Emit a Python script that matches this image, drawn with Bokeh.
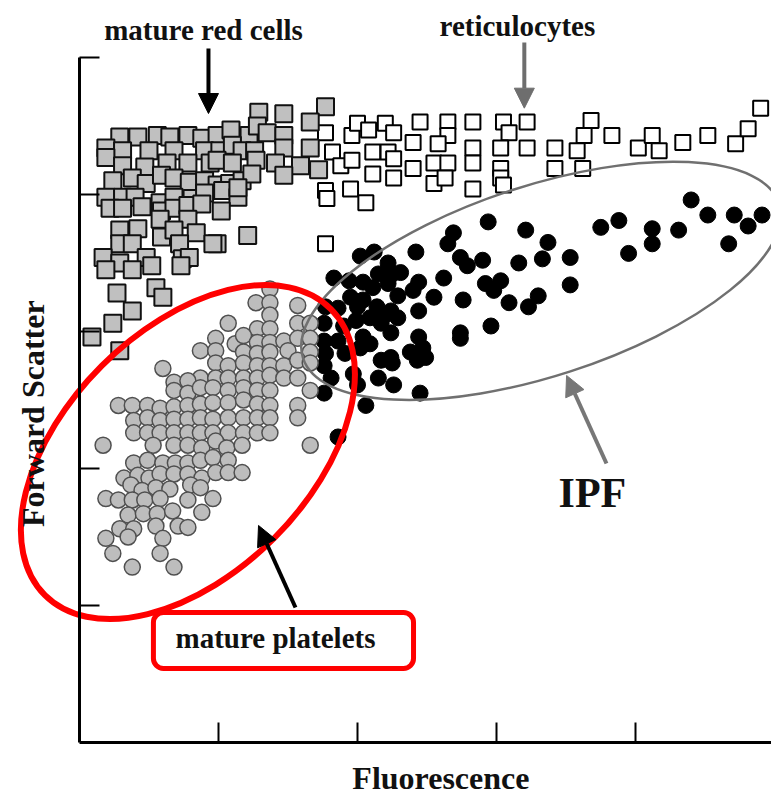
import math
from bokeh.plotting import figure
from bokeh.models import (ColumnDataSource, Range1d, FixedTicker, Label, Arrow,
                          NormalHead, BoxAnnotation)
from bokeh.embed import file_html
from bokeh.resources import INLINE

# ---------------- data (fluorescence, forward scatter), arbitrary log decades ----------------
mature_red_cells = [
    (0.29, 4.42), (0.42, 4.42), (0.56, 4.43), (0.65, 4.42), (0.78, 4.43), (0.88, 4.41),
    (0.99, 4.43), (1.09, 4.47), (1.22, 4.43), (1.29, 4.60), (1.47, 4.59), (1.77, 4.64),
    (1.66, 4.53), (1.28, 4.50), (1.35, 4.45), (1.47, 4.43), (0.19, 4.34),
    (0.31, 4.32), (0.50, 4.32), (0.68, 4.32), (0.90, 4.32), (1.01, 4.32), (1.10, 4.36),
    (1.17, 4.32), (1.26, 4.32), (1.47, 4.34), (1.66, 4.34),
    (0.19, 4.27), (0.31, 4.21), (0.47, 4.20), (0.63, 4.23), (0.78, 4.23), (0.94, 4.23),
    (0.99, 4.25), (1.10, 4.23), (1.27, 4.25), (1.41, 4.23), (1.59, 4.21), (1.72, 4.18),
    (0.24, 4.10), (0.38, 4.12), (0.48, 4.08), (0.59, 4.14), (0.68, 4.12), (0.79, 4.09),
    (0.90, 4.10), (0.99, 4.07), (1.08, 4.08), (1.17, 4.10), (1.24, 4.15), (1.47, 4.14),
    (0.19, 3.98), (0.31, 3.98), (0.40, 3.98), (0.58, 3.94), (0.68, 3.98), (0.81, 3.97),
    (0.90, 4.01), (1.03, 4.03), (1.14, 3.98), (1.14, 4.05),
    (0.22, 3.90), (0.31, 3.90), (0.45, 3.91), (0.59, 3.88), (0.68, 3.90), (0.78, 3.92),
    (0.88, 3.93), (1.02, 3.88), (0.58, 3.82), (0.78, 3.82),
    (0.29, 3.74), (0.42, 3.75), (0.59, 3.69), (0.68, 3.74), (0.84, 3.72), (0.99, 3.64),
    (1.21, 3.70), (0.29, 3.64), (0.38, 3.64), (0.72, 3.64), (0.96, 3.64),
    (0.17, 3.54), (0.29, 3.50), (0.48, 3.54), (0.74, 3.53), (0.79, 3.54),
    (0.19, 3.45), (0.38, 3.45), (0.52, 3.48), (0.73, 3.48),
    (0.55, 3.32), (0.60, 3.25), (0.27, 3.28), (0.38, 3.15), (0.24, 3.06), (0.09, 2.96),
    (0.29, 2.86),
]

reticulocytes = [
    (1.77, 4.45), (1.82, 4.31), (1.96, 4.43), (2.00, 4.52), (2.08, 4.47), (2.20, 4.52),
    (2.26, 4.45), (2.40, 4.38), (2.45, 4.53), (2.65, 4.53), (2.65, 4.43), (2.58, 4.37),
    (2.83, 4.53), (3.05, 4.53), (3.09, 4.45), (2.83, 4.34), (3.03, 4.34), (1.88, 4.21),
    (1.96, 4.25), (2.11, 4.31), (2.22, 4.31), (2.26, 4.26), (2.40, 4.19), (2.11, 4.15),
    (2.26, 4.12), (2.55, 4.23), (2.65, 4.23), (2.55, 4.08), (2.63, 4.12), (2.83, 4.23),
    (3.03, 4.19), (3.03, 4.12), (3.05, 4.07), (2.83, 4.04), (1.77, 4.03), (1.78, 3.97),
    (1.95, 4.04), (2.06, 3.94), (1.77, 3.64),
    (3.22, 4.53), (3.22, 4.34), (3.42, 4.34), (3.42, 4.19), (3.58, 4.32), (3.62, 4.19),
    (3.68, 4.54), (3.63, 4.43), (3.83, 4.43), (4.02, 4.34), (4.12, 4.43), (4.17, 4.32),
    (4.34, 4.38), (4.52, 4.43), (4.72, 4.37), (4.81, 4.48), (4.90, 4.63),
]

mature_platelets = [
    (1.37, 3.31), (1.27, 3.21), (1.37, 3.21), (1.57, 3.19), (1.37, 3.12), (1.07, 3.06),
    (1.28, 3.02), (1.37, 3.02), (1.57, 3.06), (1.66, 3.06),
    (0.98, 2.95), (1.12, 2.91), (1.18, 2.97), (1.28, 2.92), (1.37, 2.92), (1.47, 2.93),
    (1.57, 2.95), (1.66, 2.95),
    (0.87, 2.86), (0.98, 2.86), (1.18, 2.85), (1.28, 2.84), (1.37, 2.85), (1.50, 2.86),
    (1.66, 2.85),
    (0.98, 2.77), (1.07, 2.75), (1.18, 2.77), (1.28, 2.75), (1.37, 2.75), (1.47, 2.75),
    (1.57, 2.79), (1.66, 2.77), (0.60, 2.73),
    (0.87, 2.66), (0.98, 2.66), (1.07, 2.66), (1.18, 2.66), (1.28, 2.66), (1.37, 2.68),
    (1.47, 2.66), (1.57, 2.66),
    (0.68, 2.63), (0.78, 2.64), (0.68, 2.57), (0.78, 2.55), (0.87, 2.59), (0.96, 2.59),
    (1.07, 2.57), (1.18, 2.59), (1.28, 2.57), (1.37, 2.57), (1.66, 2.57),
    (0.28, 2.46), (0.38, 2.46), (0.49, 2.46), (0.58, 2.44), (0.68, 2.45), (0.78, 2.46),
    (0.87, 2.47), (0.96, 2.48), (1.07, 2.48), (1.18, 2.50), (1.28, 2.47), (1.37, 2.46),
    (1.57, 2.46), (1.57, 2.37),
    (0.39, 2.35), (0.49, 2.37), (0.58, 2.35), (0.68, 2.36), (0.78, 2.36), (0.87, 2.37),
    (0.96, 2.36), (1.07, 2.37), (1.18, 2.37), (1.28, 2.37), (1.37, 2.37),
    (0.39, 2.26), (0.49, 2.26), (0.58, 2.26), (0.68, 2.26), (0.78, 2.26), (0.87, 2.26),
    (0.96, 2.26), (1.07, 2.26), (1.18, 2.26), (1.28, 2.26), (1.37, 2.26),
    (0.17, 2.17), (0.53, 2.17), (0.68, 2.17), (0.78, 2.17), (0.88, 2.15), (0.98, 2.20),
    (1.06, 2.15), (1.17, 2.17), (1.66, 2.17),
    (0.39, 2.04), (0.49, 2.06), (0.60, 2.04), (0.69, 2.04), (0.78, 2.04), (0.87, 2.06),
    (0.96, 2.08), (1.07, 2.06),
    (0.32, 1.93), (0.42, 1.95), (0.50, 1.93), (0.58, 1.96), (0.68, 1.96), (0.78, 1.96),
    (0.88, 1.93), (0.98, 1.97), (1.07, 1.97), (1.17, 1.97),
    (0.37, 1.88), (0.45, 1.84), (0.55, 1.86), (0.65, 1.85), (0.80, 1.88), (0.87, 1.86),
    (0.19, 1.78), (0.28, 1.77), (0.38, 1.77), (0.47, 1.77), (0.58, 1.78), (0.78, 1.77),
    (0.96, 1.78),
    (0.35, 1.66), (0.46, 1.67), (0.56, 1.67), (0.67, 1.69), (0.88, 1.68),
    (0.29, 1.56), (0.39, 1.56), (0.55, 1.58), (0.71, 1.58), (0.78, 1.57),
    (0.19, 1.49), (0.35, 1.50), (0.60, 1.49), (0.24, 1.38), (0.58, 1.38),
    (0.38, 1.28), (0.68, 1.28),
]

immature_platelets = [
    (2.94, 3.80), (2.69, 3.72), (2.65, 3.64), (3.21, 3.74), (3.37, 3.65), (2.42, 3.58),
    (2.02, 3.55), (2.12, 3.58), (2.74, 3.54), (2.90, 3.52), (2.79, 3.48), (3.16, 3.50),
    (3.33, 3.53),
    (1.83, 3.39), (1.94, 3.37), (2.04, 3.36), (2.11, 3.32), (2.15, 3.42), (2.22, 3.50),
    (2.24, 3.41), (2.31, 3.43), (2.22, 3.35), (2.44, 3.36), (2.40, 3.30), (2.62, 3.39),
    (2.92, 3.35), (3.03, 3.37), (2.98, 3.30), (3.30, 3.26),
    (2.29, 3.26), (2.55, 3.25), (2.76, 3.23), (3.09, 3.21), (3.23, 3.18), (1.95, 3.25),
    (2.04, 3.23), (2.14, 3.18), (2.24, 3.15), (2.29, 3.10), (2.44, 3.15),
    (1.77, 3.18), (1.86, 3.17), (2.00, 3.18), (2.09, 3.10), (2.20, 3.12), (1.76, 3.06),
    (1.90, 3.04), (1.99, 3.08), (2.17, 3.06), (2.24, 2.99), (2.44, 2.96), (2.74, 2.99),
    (2.96, 3.04),
    (1.76, 2.93), (1.86, 2.93), (2.04, 2.96), (2.09, 2.91), (2.02, 2.88), (2.38, 2.85),
    (2.47, 2.88), (2.49, 2.81), (2.43, 2.79), (2.74, 2.95),
    (1.77, 2.84), (1.76, 2.75), (1.91, 2.84), (2.17, 2.79), (2.25, 2.77), (2.24, 2.81),
    (1.81, 2.66), (1.97, 2.69), (2.15, 2.66), (2.26, 2.61), (1.76, 2.55), (2.00, 2.61),
    (2.45, 2.55), (2.06, 2.46), (1.86, 2.23),
    (4.40, 3.96), (3.88, 3.81), (3.75, 3.76), (4.12, 3.75), (4.12, 3.64), (4.31, 3.74),
    (4.52, 3.85), (4.71, 3.85), (4.81, 3.77), (4.91, 3.85), (4.67, 3.64), (3.95, 3.57),
    (3.53, 3.54), (3.53, 3.34),
]

x_ticks = [1, 2, 3, 4]
y_ticks = [1, 2, 3, 4, 5]

SERIF = "Liberation Serif"
X_MIN, X_MAX = -0.568, 4.978
Y_MIN, Y_MAX = -0.409, 5.416


def src(points):
    return ColumnDataSource(dict(x=[pt[0] for pt in points], y=[pt[1] for pt in points]))


p = figure(width=771, height=798, output_backend="svg", toolbar_location=None,
           x_range=Range1d(X_MIN, X_MAX), y_range=Range1d(Y_MIN, Y_MAX),
           min_border_left=0, min_border_right=0, min_border_top=0,
           min_border_bottom=0)
p.outline_line_color = None
p.grid.visible = False
p.background_fill_color = "white"

# axes drawn at the data origin, ticks pointing inward, no tick labels
for ax, ticks in ((p.xaxis[0], x_ticks), (p.yaxis[0], y_ticks)):
    ax.fixed_location = 0
    ax.ticker = FixedTicker(ticks=ticks)
    ax.major_label_overrides = {t: "" for t in ticks}
    ax.major_label_text_font_size = "1px"
    ax.major_label_standoff = 0
    ax.axis_line_width = 3
    ax.axis_line_color = "black"
    ax.major_tick_in = 20
    ax.major_tick_out = 0
    ax.major_tick_line_width = 2
    ax.major_tick_line_color = "black"
    ax.minor_tick_line_color = None
p.xaxis[0].bounds = (0, X_MAX)
p.yaxis[0].bounds = (0, 5)

# scatter populations
p.scatter("x", "y", source=src(reticulocytes), marker="square", size=15,
          fill_color="white", line_color="black", line_width=2)
p.scatter("x", "y", source=src(mature_red_cells), marker="square", size=17,
          fill_color="#c0c0c0", line_color="#111111", line_width=2)
p.scatter("x", "y", source=src(immature_platelets), marker="circle", size=16,
          fill_color="black", line_color="black", line_width=1)
p.scatter("x", "y", source=src(mature_platelets), marker="circle", size=16,
          fill_color="#bdbdbd", line_color="#505050", line_width=1.5)

# gating ellipses
p.ellipse(x=[3.32], y=[3.37], width=[3.60], height=[1.39], angle=[math.radians(18)],
          fill_color=None, line_color="#707070", line_width=2.5)
p.ellipse(x=[0.78], y=[2.12], width=[2.91], height=[1.78], angle=[math.radians(45)],
          fill_color=None, line_color="#ff0000", line_width=6)

# red rounded box around "mature platelets"
p.add_layout(BoxAnnotation(left=0.532, right=2.403, bottom=0.540, top=0.949,
                           fill_color=None, fill_alpha=0, line_color="#ff0000",
                           line_alpha=1.0, line_width=5, border_radius=10))

# arrows
def add_arrow(x0, y0, x1, y1, color):
    p.add_layout(Arrow(x_start=x0, y_start=y0, x_end=x1, y_end=y1,
                       line_color=color, line_width=4,
                       end=NormalHead(size=20, fill_color=color, line_color=color)))

add_arrow(0.928, 5.066, 0.928, 4.591, "black")
add_arrow(3.20, 5.11, 3.20, 4.63, "#6e6e6e")
add_arrow(1.554, 0.985, 1.288, 1.584, "black")
add_arrow(3.791, 2.036, 3.504, 2.679, "#777777")

# texts
def add_text(x, y, text, size, angle=0.0):
    p.add_layout(Label(x=x, y=y, text=text, text_font=SERIF, text_font_style="bold",
                       text_font_size=size, text_color="#111111", text_align="center",
                       text_baseline="middle", angle=angle))

add_text(0.892, 5.20, "mature red cells", "29px")
add_text(3.15, 5.23, "reticulocytes", "29px")
add_text(3.69, 1.82, "IPF", "42px")
add_text(1.41, 0.766, "mature platelets", "29px")
add_text(2.60, -0.26, "Fluorescence", "32px")
add_text(-0.331, 2.40, "Forward Scatter", "32px", angle=math.pi / 2)

open("out.html", "w").write(file_html(p, INLINE))
